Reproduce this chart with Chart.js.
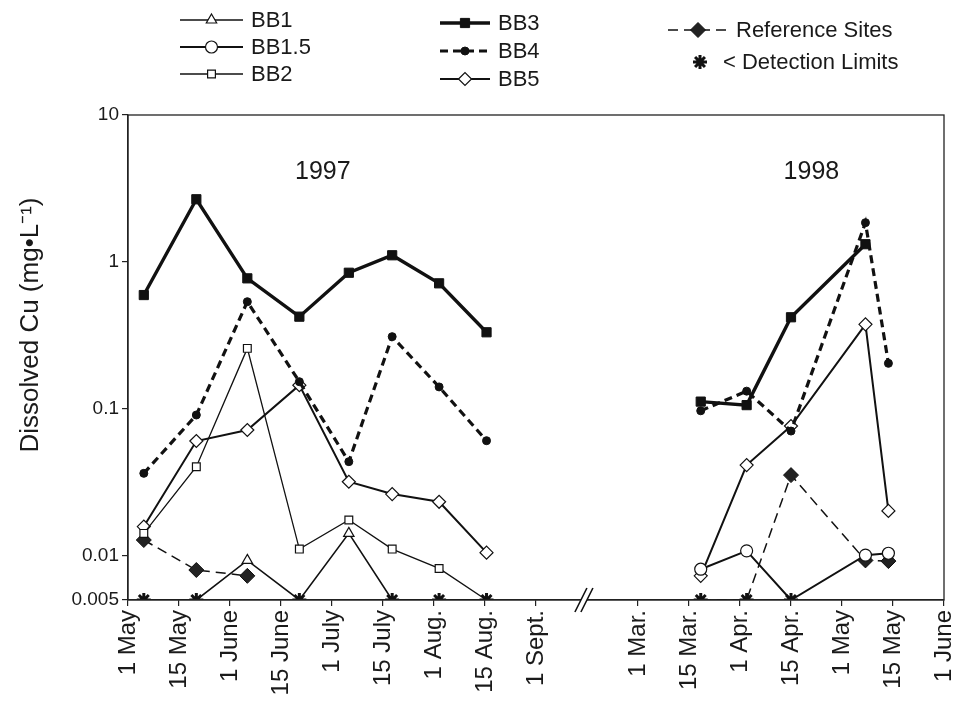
<!DOCTYPE html>
<html>
<head>
<meta charset="utf-8">
<script src="https://cdn.jsdelivr.net/npm/chart.js@4.4.1/dist/chart.umd.min.js"></script>
<style>
  body { margin: 0; background: #fff; }
  canvas { display: block; }
</style>
</head>
<body>
<canvas id="cuChart" width="955" height="705"></canvas>
<script>
// Dissolved Cu at the BB sites, 1997 and 1998 (log scale)

const tickLabels = ['1 May', '15 May', '1 June', '15 June', '1 July', '15 July', '1 Aug.', '15 Aug.', '1 Sept.',
    '1 Mar.', '15 Mar.', '1 Apr.', '15 Apr.', '1 May', '15 May', '1 June'];
const tickIdx = [0, 1, 2, 3, 4, 5, 6, 7, 8, 10, 11, 12, 13, 14, 15, 16];
const yTicks = [0.005, 0.01, 0.1, 1, 10];
const DL = 0.005; // detection limit

// sampling dates on the axis (half-month units)
const x1997 = [0.31, 1.34, 2.34, 3.36, 4.33, 5.18, 6.1, 7.03];
const x1998 = [11.23, 12.13, 13.0, 14.46, 14.91];

const bb1_97 = [0.005, 0.005, 0.0093, 0.005, 0.0142, 0.005, 0.005, 0.005];
const bb1_98 = [null, null, null, null, null];
const bb15_97 = [null, null, null, null, null, null, null, null];
const bb15_98 = [0.0081, 0.0108, 0.005, 0.0101, 0.0104];
const bb2_97 = [0.0142, 0.0404, 0.258, 0.0111, 0.0175, 0.0111, 0.0082, 0.005];
const bb2_98 = [null, null, null, null, null];
const bb3_97 = [0.595, 2.67, 0.773, 0.424, 0.844, 1.11, 0.715, 0.332];
const bb3_98 = [0.112, 0.106, 0.42, 1.32, null];
const bb4_97 = [0.0364, 0.0908, 0.536, 0.153, 0.0437, 0.31, 0.141, 0.0607];
const bb4_98 = [0.097, 0.132, 0.0706, 1.85, 0.204];
const bb5_97 = [0.0158, 0.0604, 0.0718, 0.145, 0.0319, 0.0263, 0.0233, 0.0105];
const bb5_98 = [0.0073, 0.0414, 0.0764, 0.376, 0.0202];
const ref_97 = [0.0128, 0.008, 0.0073, null, null, null, null, null];
const ref_98 = [0.005, 0.005, 0.0354, 0.0093, 0.0092];

const FONT = "'Liberation Sans', Arial, Helvetica, sans-serif";
const INK = '#1a1a1a';

function toPoints(v97, v98) {
    const pts = x1997.map((x, i) => ({ x: x, y: v97[i] }));
    pts.push({ x: 9, y: null }); // break between the two years
    x1998.forEach((x, i) => pts.push({ x: x, y: v98[i] }));
    return pts;
}

// points at the detection limit get a star instead of the series marker
function belowDL(all) {
    const seen = {};
    const out = [];
    all.forEach(pts => pts.forEach(p => {
        if (p.y !== null && p.y <= DL && !seen[p.x]) {
            seen[p.x] = true;
            out.push({ x: p.x, y: p.y });
        }
    }));
    return out;
}

function markerRadius(r) {
    return ctx => (ctx.raw && ctx.raw.y !== null && ctx.raw.y > DL) ? r : 0;
}

const series = {
    bb1: toPoints(bb1_97, bb1_98),
    bb15: toPoints(bb15_97, bb15_98),
    bb2: toPoints(bb2_97, bb2_98),
    bb3: toPoints(bb3_97, bb3_98),
    bb4: toPoints(bb4_97, bb4_98),
    bb5: toPoints(bb5_97, bb5_98),
    ref: toPoints(ref_97, ref_98)
};

const datasets = [
    {
        label: '< Detection Limits',
        data: belowDL(Object.values(series)),
        showLine: false,
        pointStyle: 'star', pointRadius: 7, pointBorderWidth: 3,
        borderColor: '#111', backgroundColor: '#111'
    },
    {
        label: 'BB1', data: series.bb1,
        borderColor: '#111', borderWidth: 1.6,
        pointStyle: 'triangle', pointRadius: markerRadius(6), pointBorderWidth: 1.2,
        pointBackgroundColor: '#fff', pointBorderColor: '#111'
    },
    {
        label: 'BB1.5', data: series.bb15,
        borderColor: '#111', borderWidth: 2,
        pointStyle: 'circle', pointRadius: markerRadius(6), pointBorderWidth: 1.2,
        pointBackgroundColor: '#fff', pointBorderColor: '#111'
    },
    {
        label: 'BB2', data: series.bb2,
        borderColor: '#111', borderWidth: 1.3,
        pointStyle: 'rect', pointRadius: markerRadius(5.5), pointBorderWidth: 1.2,
        pointBackgroundColor: '#fff', pointBorderColor: '#111'
    },
    {
        label: 'BB3', data: series.bb3,
        borderColor: '#111', borderWidth: 3.4,
        pointStyle: 'rect', pointRadius: markerRadius(6.5), pointBorderWidth: 1,
        pointBackgroundColor: '#111', pointBorderColor: '#111'
    },
    {
        label: 'BB4', data: series.bb4,
        borderColor: '#111', borderWidth: 3.2, borderDash: [8, 5],
        pointStyle: 'circle', pointRadius: markerRadius(4), pointBorderWidth: 1,
        pointBackgroundColor: '#111', pointBorderColor: '#111'
    },
    {
        label: 'BB5', data: series.bb5,
        borderColor: '#111', borderWidth: 2,
        pointStyle: 'rectRot', pointRadius: markerRadius(6.5), pointBorderWidth: 1.2,
        pointBackgroundColor: '#fff', pointBorderColor: '#111'
    },
    {
        label: 'Reference Sites', data: series.ref,
        borderColor: '#111', borderWidth: 1.5, borderDash: [10, 6],
        pointStyle: 'rectRot', pointRadius: markerRadius(7.5), pointBorderWidth: 1,
        pointBackgroundColor: '#222', pointBorderColor: '#111'
    }
];

// legend slots: [line start, line end, row y]
const legendLayout = {
    'BB1': [180, 243, 20],
    'BB1.5': [180, 243, 47],
    'BB2': [180, 243, 74],
    'BB3': [440, 490, 23],
    'BB4': [440, 490, 51],
    'BB5': [440, 490, 79],
    'Reference Sites': [668, 728, 30],
    '< Detection Limits': [700, 700, 62]
};

function drawMarker(ctx, ds, x, y) {
    const r = typeof ds.pointRadius === 'function' ? ds.pointRadius({ raw: { y: 1 } }) : ds.pointRadius;
    ctx.fillStyle = ds.pointBackgroundColor || ds.backgroundColor;
    ctx.strokeStyle = ds.pointBorderColor || ds.borderColor;
    ctx.lineWidth = ds.pointBorderWidth;
    ctx.setLineDash([]);
    Chart.helpers.drawPoint(ctx, {
        pointStyle: ds.pointStyle, radius: r, rotation: 0, borderWidth: ds.pointBorderWidth
    }, x, y);
}

const extrasPlugin = {
    id: 'extras',
    afterDraw(chart) {
        const ctx = chart.ctx;
        const a = chart.chartArea;
        const xs = chart.scales.x;
        const ys = chart.scales.y;
        ctx.save();

        // plot frame
        ctx.strokeStyle = '#222';
        ctx.lineWidth = 1.3;
        ctx.setLineDash([]);
        ctx.strokeRect(a.left, a.top, a.right - a.left, a.bottom - a.top);

        // axis break
        const bx = xs.getPixelForValue(8.92);
        const by = a.bottom;
        ctx.fillStyle = '#fff';
        ctx.beginPath();
        ctx.moveTo(bx - 8, by + 12);
        ctx.lineTo(bx + 4, by - 12);
        ctx.lineTo(bx + 10, by - 12);
        ctx.lineTo(bx - 2, by + 12);
        ctx.closePath();
        ctx.fill();
        ctx.strokeStyle = '#111';
        ctx.lineWidth = 1.6;
        ctx.beginPath();
        ctx.moveTo(bx - 8, by + 12); ctx.lineTo(bx + 4, by - 12);
        ctx.moveTo(bx - 2, by + 12); ctx.lineTo(bx + 10, by - 12);
        ctx.stroke();

        // year labels
        ctx.fillStyle = INK;
        ctx.font = '25px ' + FONT;
        ctx.textAlign = 'center';
        ctx.textBaseline = 'middle';
        ctx.fillText('1997', xs.getPixelForValue(3.82), ys.getPixelForValue(4.1));
        ctx.fillText('1998', xs.getPixelForValue(13.4), ys.getPixelForValue(4.1));

        // y axis title
        ctx.save();
        ctx.translate(31, 325);
        ctx.rotate(-Math.PI / 2);
        ctx.font = '26px ' + FONT;
        ctx.fillText('Dissolved Cu (mg\u2022L\u207B\u00B9)', 0, 0);
        ctx.restore();

        // legend
        ctx.font = '22px ' + FONT;
        ctx.textAlign = 'left';
        chart.data.datasets.forEach(ds => {
            const slot = legendLayout[ds.label];
            if (!slot) return;
            const [x0, x1, y] = slot;
            if (ds.showLine !== false) {
                ctx.strokeStyle = ds.borderColor;
                ctx.lineWidth = ds.borderWidth;
                ctx.setLineDash(ds.borderDash || []);
                ctx.beginPath();
                ctx.moveTo(x0, y);
                ctx.lineTo(x1, y);
                ctx.stroke();
            }
            drawMarker(ctx, ds, (x0 + x1) / 2, y);
            ctx.fillStyle = INK;
            ctx.fillText(ds.label, x1 + (ds.showLine === false ? 23 : 8), y + 1);
        });

        ctx.restore();
    }
};

new Chart(document.getElementById('cuChart').getContext('2d'), {
    type: 'line',
    data: { datasets: datasets },
    options: {
        responsive: false,
        animation: false,
        events: [],
        spanGaps: false,
        layout: { padding: { top: 115, right: 11, left: 0, bottom: 0 } },
        plugins: {
            legend: { display: false },
            tooltip: { enabled: false }
        },
        scales: {
            x: {
                type: 'linear',
                min: 0,
                max: 16,
                afterBuildTicks: s => { s.ticks = tickIdx.map(v => ({ value: v })); },
                afterFit: s => { s.height = 105; s.paddingLeft = 0; s.paddingRight = 0; },
                grid: { drawOnChartArea: false, tickLength: 6, color: '#222', lineWidth: 1.2 },
                border: { display: true, color: '#222', width: 1.3 },
                ticks: {
                    autoSkip: false,
                    maxRotation: 90,
                    minRotation: 90,
                    padding: 4,
                    color: INK,
                    font: { family: FONT, size: 24 },
                    callback: (v, i) => tickLabels[i]
                }
            },
            y: {
                type: 'logarithmic',
                min: DL,
                max: 10,
                afterBuildTicks: s => { s.ticks = yTicks.map(v => ({ value: v })); },
                afterFit: s => { s.width = 128; s.paddingTop = 0; s.paddingBottom = 0; },
                grid: { drawOnChartArea: false, tickLength: 6, color: '#222', lineWidth: 1.2 },
                border: { display: true, color: '#222', width: 1.3 },
                ticks: {
                    padding: 3,
                    color: INK,
                    font: { family: FONT, size: 19 },
                    callback: v => String(v)
                }
            }
        }
    },
    plugins: [extrasPlugin]
});
</script>
</body>
</html>
